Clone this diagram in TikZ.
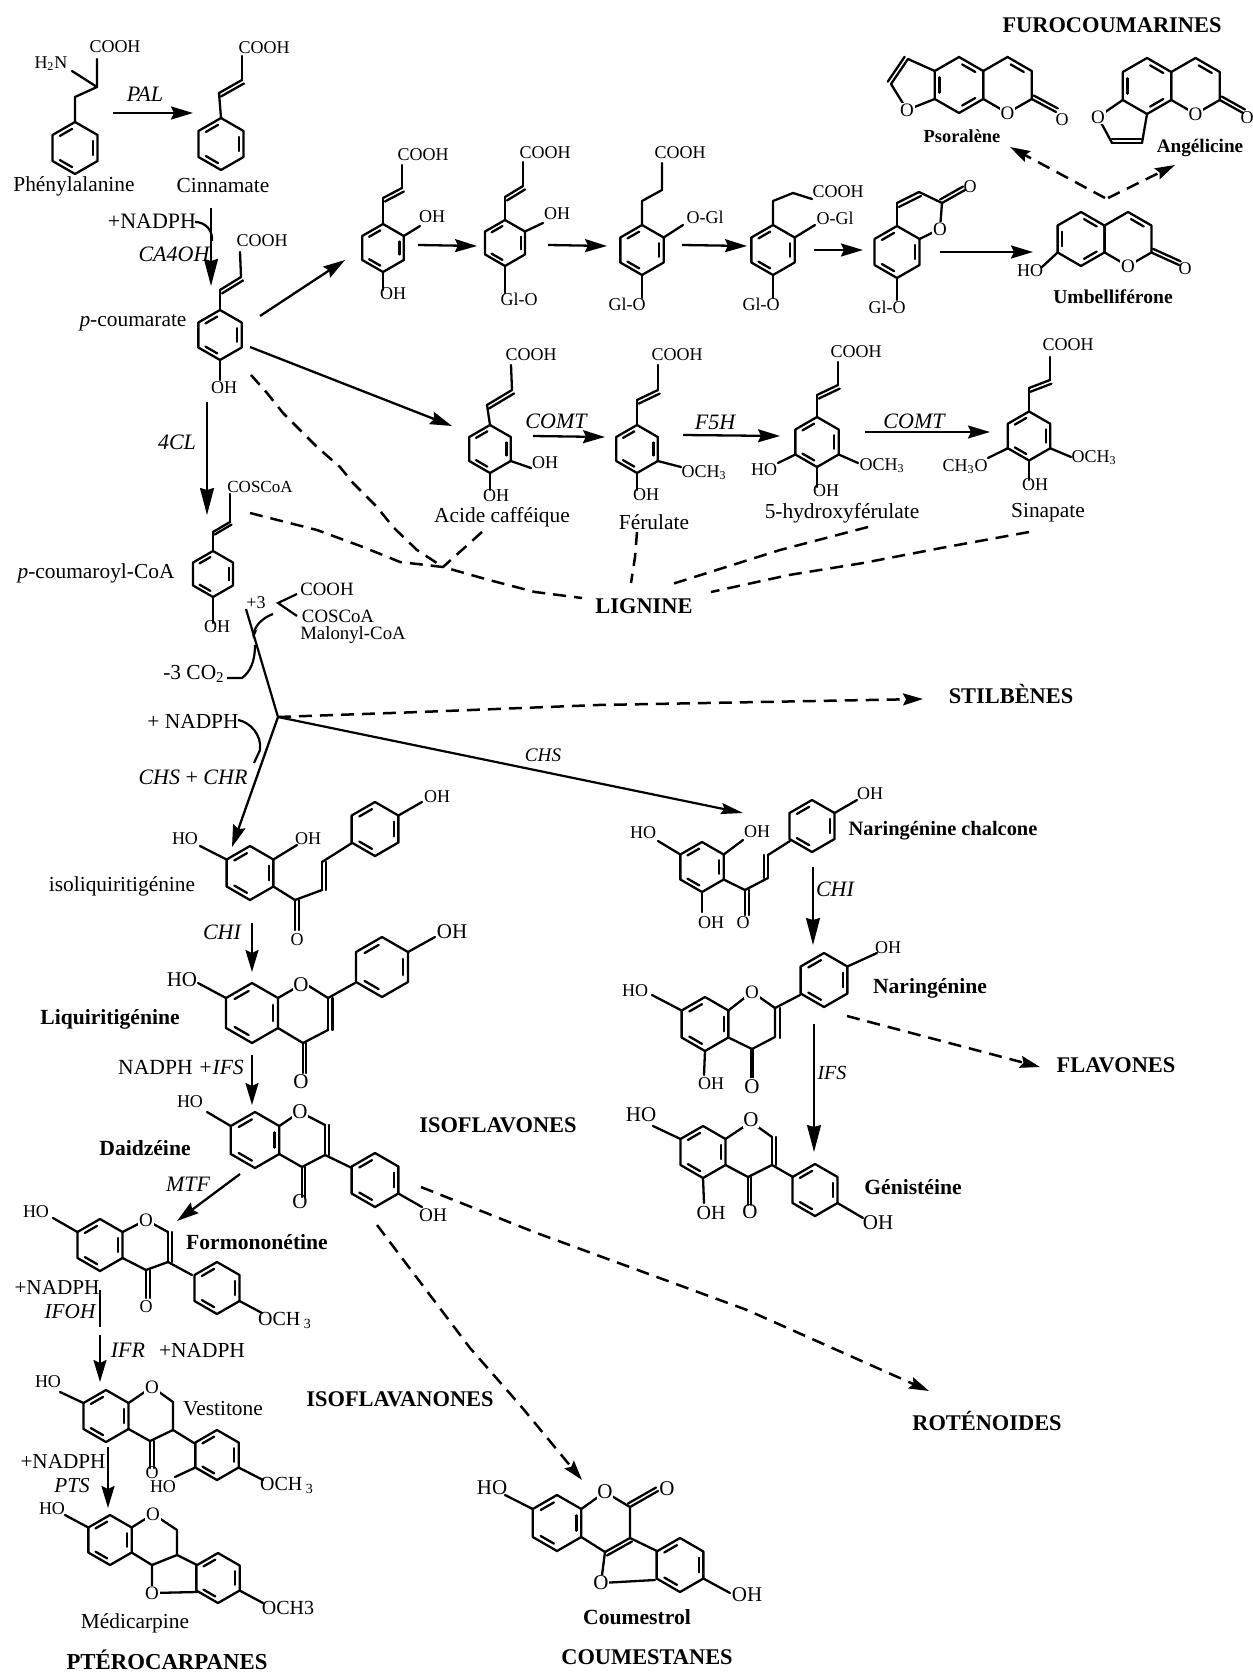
\documentclass[tikz,border=0pt]{standalone}
\usepackage{fontspec}
\setmainfont{Liberation Serif}
\usetikzlibrary{calc,arrows.meta}
\tikzset{
  bond/.style={line width=1.15pt,line join=round,line cap=round},
  arr/.style={line width=1.15pt,-{Stealth[length=11pt,width=6.5pt,inset=1.5pt]}},
  thinarr/.style={line width=.9pt,-{Stealth[length=13.5pt,width=7pt,inset=1pt]}},
  dasharr/.style={line width=1.25pt,dash pattern=on 6.5pt off 4pt,-{Stealth[length=10pt,width=6pt,inset=1.5pt]}},
  dashln/.style={line width=1.25pt,dash pattern=on 6.5pt off 4pt},
  plainln/.style={line width=1.1pt},
  chem/.style={inner sep=0pt,font=\fontsize{9}{10}\selectfont},
  chemL/.style={inner sep=0pt,font=\fontsize{10.5}{11}\selectfont},
  ato/.style={inner sep=.4pt,fill=white,font=\fontsize{9.5}{10}\selectfont},
  atoL/.style={inner sep=.4pt,fill=white,font=\fontsize{10.5}{11}\selectfont},
  lab/.style={inner sep=0pt,font=\fontsize{10.7}{12}\selectfont},
  enz/.style={inner sep=0pt,font=\fontsize{11}{12}\selectfont\itshape},
  labb/.style={inner sep=0pt,font=\fontsize{10.8}{12}\selectfont\bfseries},
  labs/.style={inner sep=0pt,font=\fontsize{9.2}{10}\selectfont\bfseries},
  fam/.style={inner sep=0pt,font=\fontsize{11.2}{12}\selectfont\bfseries}
}
% ring: name, cx, cy, R, inner double bonds (0 = none)
\newcommand\ring[5]{%
  \foreach \i/\a in {1/90,2/30,3/-30,4/-90,5/-150,6/150}{\coordinate (#1-\i) at ({#2+#4*cos(\a)},{#3-#4*sin(\a)});}
  \coordinate (#1-c) at (#2,#3);
  \draw[bond] (#1-1)--(#1-2)--(#1-3)--(#1-4)--(#1-5)--(#1-6)--cycle;
  \foreach \b in {#5}{\ifnum\b>0
    \pgfmathtruncatemacro\nxt{mod(\b,6)+1}
    \draw[bond] ($($(#1-\b)!.16!(#1-\nxt)$)!.2!(#1-c)$)--($($(#1-\nxt)!.16!(#1-\b)$)!.2!(#1-c)$);
  \fi}%
}
% double bond: p, q, offset in pt (positive: left of the travel direction)
\newcommand\dbond[3]{\draw[bond] #1--#2;\draw[bond] ($#1!#3pt!90:#2$)--($#2!#3pt!-90:#1$);}
% connector through two named coordinates
\newcommand\conn[4]{\coordinate (#1-s) at (#3);\coordinate (#1-e) at (#4);\draw[#2] (#1-s)--(#1-e);}
\begin{document}
\begin{tikzpicture}[x=0.5pt,y=-0.5pt]
\useasboundingbox (0,0) rectangle (1252,1674);
% ---------- Phenylalanine, cinnamate
\ring{phe}{75}{148}{26}{2,4,6}
\draw[bond] (phe-1)--(75,97)--(97,87)--(97,59);
\draw[bond] (97,87)--(72,71);
\node[chem] (t1) at (115,47) {COOH};
\node[chem] (t2) at (51,64) {H\textsubscript{2}N};
\node[lab] (t3) at (74,186) {Phénylalanine};
\conn{pal}{arr}{113,113}{193,113}
\node[enz] (t4) at (145,94) {PAL};
\ring{cin}{221}{144}{26}{2,4,6}
\draw[bond] (cin-1)--(219,93);\dbond{(219,93)}{(242,80)}{-2}\draw[bond] (242,80)--(242,56);
\node[chem] (t5) at (264,48) {COOH};
\node[lab] (t6) at (223,186) {Cinnamate};
\node[enz,font=\fontsize{11}{12}\selectfont] (t7) at (152,221) {+NADPH};
\node[enz] (t8) at (174,254) {CA4OH};
\conn{c4h}{thinarr}{211,208}{211,286}
\coordinate (c4hc) at (195,222);\coordinate (c4hd) at (212,241);
\draw[plainln] (c4hc) .. controls (205,222) and (213,230) .. (c4hd);
% ---------- p-coumarate
\ring{pco}{220}{335}{25}{2,4,6}
\draw[bond] (pco-1)--(220,290);\dbond{(220,290)}{(241,277)}{-2}\draw[bond] (241,277)--(240,252);
\draw[bond] (pco-4)--(220,380);
\node[chem] (t9) at (262,241) {COOH};
\node[chem] (t10) at (224,388) {OH};
\node[lab] (t11) at (133,323) {\textit{p}-coumarate};
\conn{a1}{arr}{260,316}{345,260}
\conn{a2}{arr}{250,347}{452,426}
\conn{cl4}{thinarr}{207,402}{207,515}
\node[enz] (t12) at (177,442) {4CL};
% ---------- top row
\ring{ra}{383}{248}{24}{2,4,6}
\draw[bond] (ra-1)--(383,198);\dbond{(383,198)}{(402,188)}{-2}\draw[bond] (402,188)--(402,165);
\draw[bond] (ra-2)--(420,226);\draw[bond] (ra-4)--(383,290);
\node[chem] (u1) at (423,155) {COOH};\node[chem] (u2) at (432,217) {OH};\node[chem] (u3) at (393,294) {OH};
\conn{a3}{arr}{418,245}{477,246}
\ring{rb}{505}{243}{23}{2,4,6}
\draw[bond] (rb-1)--(505,197);\dbond{(505,197)}{(523,186)}{-2}\draw[bond] (523,186)--(523,162);
\draw[bond] (rb-2)--(543,223);\draw[bond] (rb-4)--(505,293);
\node[chem] (u4) at (545,153) {COOH};\node[chem] (u5) at (557,214) {OH};\node[chem] (u6) at (519,299) {Gl-O};
\conn{a4}{arr}{548,245}{607,246}
\ring{rc}{642}{250}{25}{2,4,6}
\draw[bond] (rc-1)--(642,201)--(662,190)--(662,163);
\draw[bond] (rc-2)--(683,225);\draw[bond] (rc-4)--(642,298);
\node[chem] (u7) at (680,153) {COOH};\node[chem] (u8) at (705,217) {O-Gl};\node[chem] (u9) at (627,304) {Gl-O};
\conn{a5}{arr}{682,245}{747,246}
\ring{rd}{773}{250}{25}{2,4,6}
\draw[bond] (rd-1)--(773,201)--(793,193)--(812,199);
\draw[bond] (rd-2)--(815,225);\draw[bond] (rd-4)--(773,298);
\node[chem] (u10) at (838,192) {COOH};\node[chem] (u11) at (835,218) {O-Gl};\node[chem] (u12) at (761,304) {Gl-O};
\conn{a6}{arr}{814,250}{863,250}
% Gl-O coumarin
\ring{re}{897}{252}{26}{2,4,6}
\draw[bond] (re-1)--(897,203);\dbond{(897,203)}{(919,192)}{-2.2}\draw[bond] (919,192)--(942,203);
\draw[bond] (942,203)--(940,229)--(re-2);
\dbond{(942,203)}{(965,190)}{2}
\draw[bond] (re-4)--(897,300);
\node[ato] (u13) at (940,229) {O};\node[chem] (u14) at (970,187) {O};\node[chem] (u15) at (887,307) {Gl-O};
\conn{a7}{arr}{940,252}{1033,252}
% Umbelliferone
\ring{um}{1081}{239}{27}{1,3,5}
\ring{um2}{1128}{239}{27}{1}
\dbond{(um2-3)}{(1179,265)}{2}
\draw[bond] (um-5)--(1042,267);
\node[ato] (u16) at (um2-4) {O};\node[chem] (u17) at (1185,269) {O};
\node[chem] (u18) at (1030,271) {HO};
\node[labs,font=\fontsize{9.8}{10}\selectfont\bfseries] (u19) at (1113,297) {Umbelliférone};
% Psoralen
\ring{ps}{959}{85}{28}{1,3,5}
\ring{ps2}{1007.5}{85}{28}{1}
\dbond{(ps2-3)}{(1056,112)}{2}
\draw[bond] (ps-6)--(908,59);\dbond{(908,59)}{(891,84)}{-2}\draw[bond] (891,84)--(907,110)--(ps-5);
\node[ato] (f1) at (907,110) {O};\node[ato] (f2) at (ps2-4) {O};\node[chem] (f3) at (1062,120) {O};
\node[labs] (f4) at (962,136) {Psoralène};
% Angelicin
\ring{an}{1147}{86}{28}{1,3,5}
\ring{an2}{1195.5}{86}{28}{1}
\dbond{(an2-3)}{(1243,113)}{2}
\draw[bond] (an-5)--(1098,117)--(1112,143);\dbond{(1112,143)}{(1142,143)}{2}\draw[bond] (1142,143)--(an-4);
\node[ato] (f5) at (1098,117) {O};\node[ato] (f6) at (an2-4) {O};\node[chem] (f7) at (1247,118) {O};
\node[labs,font=\fontsize{9.6}{10}\selectfont\bfseries] (f8) at (1200,148) {Angélicine};
\node[fam] (f9) at (1112,25) {FUROCOUMARINES};
\conn{d1}{dasharr}{1105,198}{1010,147}
\conn{d2}{dasharr}{1108,198}{1175,165}
% ---------- Middle row
\ring{ca}{490}{449}{24}{2,4,6}
\draw[bond] (ca-1)--(487,405);\dbond{(487,405)}{(512,390)}{-2}\draw[bond] (512,390)--(511,365);
\draw[bond] (ca-3)--(531,468);\draw[bond] (ca-4)--(490,490);
\node[chem] (m1) at (531,355) {COOH};\node[chem] (m2) at (545,463) {OH};\node[chem] (m3) at (496,496) {OH};
\node[lab] (m4) at (502,517) {Acide cafféique};
\conn{a8}{arr}{533,436}{605,437}
\node[enz] (m5) at (556,421) {COMT};
\ring{fe}{637}{449}{24}{2,4,6}
\draw[bond] (fe-1)--(637,400);\dbond{(637,400)}{(658,390)}{-2}\draw[bond] (658,390)--(658,365);
\draw[bond] (fe-3)--(681,467);\draw[bond] (fe-4)--(637,490);
\node[chem] (m6) at (677,355) {COOH};\node[chem] (m7) at (704,473) {OCH\textsubscript{3}};\node[chem] (m8) at (646,495) {OH};
\node[lab] (m9) at (654,522) {Férulate};
\conn{a9}{arr}{683,435}{780,436}
\node[enz] (m10) at (715,422) {F5H};
\ring{hf}{817}{442}{25}{2,4,6}
\draw[bond] (hf-1)--(817,395);\dbond{(817,395)}{(838,385)}{-2}\draw[bond] (838,385)--(838,362);
\draw[bond] (hf-3)--(858,463);\draw[bond] (hf-5)--(778,463);\draw[bond] (hf-4)--(817,487);
\node[chem] (m11) at (856,352) {COOH};\node[chem] (m12) at (882,466) {OCH\textsubscript{3}};\node[chem] (m13) at (764,470) {HO};\node[chem] (m14) at (826,491) {OH};
\node[lab] (m15) at (842,513) {5-hydroxyférulate};
\conn{a10}{arr}{865,432}{990,432}
\node[enz] (m16) at (914,421) {COMT};
\ring{si}{1029}{436}{24.5}{2,4,6}
\draw[bond] (si-1)--(1029,388);\dbond{(1029,388)}{(1050,380)}{-2}\draw[bond] (1050,380)--(1050,357);
\draw[bond] (si-3)--(1071,457);\draw[bond] (si-5)--(988,458);\draw[bond] (si-4)--(1029,480);
\node[chem] (m17) at (1068,345) {COOH};\node[chem] (m18) at (1094,458) {OCH\textsubscript{3}};\node[chem] (m19) at (965,467) {CH\textsubscript{3}O};\node[chem] (m20) at (1035,485) {OH};
\node[lab] (m21) at (1048,513) {Sinapate};
% ---------- Lignine dashes
\node[fam] (lig) at (644,606) {LIGNINE};
\coordinate (lj) at (443,567);
\coordinate (lg1) at (582,598);\coordinate (lg2) at (631,583);\coordinate (lg3) at (669,585);\coordinate (lg4) at (711,592);
\draw[dashln] (251,375)--(267,393)--(283,413)--(317,447)--(340,467)--(353,483)--(377,507)--(393,527)--(417,550)--(lj);
\draw[dashln] (250,513)--(317,530)--(363,547)--(400,562)--(lj)--(489,580)--(535,592)--(lg1);
\draw[dashln] (482,532)--(lj);
\draw[dashln] (637,532)--(635,557)--(lg2);
\draw[dashln] (868,527)--(780,550)--(lg3);
\draw[dashln] (1029,532)--(941,548)--(863,563)--(789,575)--(lg4);
% ---------- p-coumaroyl
\ring{pc}{213}{574}{23}{2,4,6}
\draw[bond] (pc-1)--(213,532);\dbond{(213,532)}{(230,522)}{-1.5}\draw[bond] (230,522)--(230,494);
\draw[bond] (pc-4)--(213,623);
\node[chem,font=\fontsize{8.5}{10}\selectfont] (n1) at (260,487) {COSCoA};
\node[chem] (n2) at (217,627) {OH};
\node[lab] (n3) at (96,573) {\textit{p}-coumaroyl-CoA};
\node[chem] (n4) at (256,603) {+3};
\draw[plainln] (297,594)--(278,603)--(297,616);
\node[chem,font=\fontsize{9.4}{10}\selectfont] (n5) at (327,589) {COOH};
\node[chem,font=\fontsize{9.4}{10}\selectfont] (n6) at (338,616) {COSCoA};
\node[chem,font=\fontsize{9.4}{10}\selectfont] (n7) at (353,635) {Malonyl-CoA};
% junction
\coordinate (jct) at (278,717);\coordinate (mst) at (246,609);
\draw[plainln] (mst)--(jct);
\coordinate (mc1) at (273,614);\coordinate (mc2) at (253,639);
\draw[plainln,-{Stealth[length=5pt,width=3pt]}] (mc1) .. controls (262,618) and (255,626) .. (mc2);
\node[lab] (n8) at (194,674) {-3 CO\textsubscript{2}};
\coordinate (co1) at (227,678);\coordinate (co2) at (255,645);
\draw[plainln] (co1)--(242,678) .. controls (250,672) and (255,662) .. (co2);
\node[lab] (n9) at (193,721) {+ NADPH};
\coordinate (na1) at (238,720);\coordinate (na2) at (254,763);
\draw[plainln] (na1) .. controls (250,722) and (262,735) .. (260,750) -- (na2);
\node[enz] (n10) at (193,777) {CHS \textup{+} CHR};
\coordinate (chsre) at (232,847);\draw[arr] (jct)--(chsre);
\coordinate (chse) at (743,813);\draw[plainln,-{Stealth[length=11pt,width=5.5pt,inset=1.5pt]}] (jct)--(chse);
\node[enz,font=\fontsize{9.6}{10}\selectfont\itshape] (n11) at (543,755) {CHS};
\node[fam] (n12) at (1011,694) {STILBÈNES};
\coordinate (sti) at (923,699);
\draw[dasharr] (jct)--(420,712)--(598,705)--(sti);
% ---------- isoliquiritigenine
\ring{il}{250}{873}{27}{2,4,6}
\draw[bond] (il-6)--(200,846);\draw[bond] (il-2)--(297,845);
\draw[bond] (il-3)--(295,900)--(322,890);
\dbond{(322,890)}{(322,862)}{-2}
\draw[bond] (322,862)--(352,843);
\dbond{(295,900)}{(295,930)}{2}
\ring{il2}{375}{829}{27}{2,4,6}
\draw[bond] (il2-2)--(422,802);
\node[chem] (i1) at (185,839) {HO};\node[chem] (i2) at (308,839) {OH};\node[chem] (i3) at (297,940) {O};\node[chem] (i4) at (437,797) {OH};
\node[lab] (i5) at (122,886) {isoliquiritigénine};
\node[enz] (i6) at (222,932) {CHI};
\conn{a11}{arr}{252,923}{252,972}
% ---------- Liquiritigenine
\ring{lq}{252}{1013}{30}{2,4,6}
\draw[bond] (lq-2)--(304,983)--(328,998);\dbond{(328,998)}{(328,1030)}{2.2}\draw[bond] (328,1030)--(303,1043)--(lq-3);
\draw[bond] (lq-6)--(198,983);
\dbond{(303,1043)}{(303,1073)}{1.5}
\draw[bond] (328,998)--(355,983);
\ring{lq2}{382}{967}{30}{2,4,6}
\draw[bond] (lq2-2)--(435,937);
\node[atoL] (l1) at (301,985) {O};\node[chemL] (l2) at (182,980) {HO};\node[chemL] (l3) at (301,1082) {O};\node[chemL] (l4) at (452,932) {OH};
\node[labb] (l5) at (110,1019) {Liquiritigénine};
\node[lab,font=\fontsize{10.8}{12}\selectfont] (l6) at (181,1067) {NADPH \textit{+IFS}};
\conn{a12}{arr}{252,1055}{252,1105}
% ---------- Daidzeine
\ring{da}{255}{1140}{28}{2,4,6}
\draw[bond] (da-2)--(300,1112)--(325,1125);\dbond{(325,1125)}{(325,1155)}{2}\draw[bond] (325,1155)--(302,1167)--(da-3);
\draw[bond] (da-6)--(207,1112);
\dbond{(302,1167)}{(302,1197)}{1.5}
\draw[bond] (325,1155)--(352,1168);
\ring{da2}{375}{1180}{27}{2,4,6}
\draw[bond] (da2-3)--(422,1207);
\node[atoL] (d3) at (300,1112) {O};\node[chem] (d4) at (190,1102) {HO};\node[chemL] (d5) at (300,1202) {O};\node[chem,font=\fontsize{9.6}{10}\selectfont] (d6) at (433,1215) {OH};
\node[labb] (d7) at (145,1148) {Daidzéine};
\node[fam] (d8) at (498,1125) {ISOFLAVONES};
\node[enz] (d9) at (188,1184) {MTF};
\conn{a13}{arr}{240,1174}{177,1221}
% ---------- Formononetine
\ring{fo}{100}{1245}{26}{2,4,6}
\draw[bond] (fo-2)--(146,1220)--(168,1232);\dbond{(168,1232)}{(168,1262)}{2}\draw[bond] (168,1262)--(146,1270)--(fo-3);
\draw[bond] (fo-6)--(53,1218);
\dbond{(146,1270)}{(146,1298)}{2}
\draw[bond] (168,1262)--(192,1275);
\ring{fo2}{217}{1288}{26}{2,4,6}
\draw[bond] (fo2-3)--(262,1313);
\node[ato] (o1) at (146,1220) {O};\node[chem] (o2) at (36,1212) {HO};\node[chem] (o3) at (146,1307) {O};
\node[chem,font=\fontsize{10}{10}\selectfont] (o4) at (285,1320) {OCH\textsubscript{ 3}};
\node[labb] (o5) at (257,1242) {Formononétine};
\node[lab,font=\fontsize{10.6}{12}\selectfont] (o6) at (57,1288) {+NADPH};
\node[enz,font=\fontsize{10.6}{12}\selectfont\itshape] (o7) at (70,1312) {IFOH};
\conn{a14}{plainln}{100,1290}{100,1327}
\conn{a15}{arr}{100,1335}{100,1382}
\node[enz] (o8) at (128,1350) {IFR};
\node[lab] (o9) at (202,1350) {+NADPH};
% ---------- Vestitone
\ring{ve}{106}{1416}{26}{2,4,6}
\draw[bond] (ve-2)--(152,1387)--(173,1402)--(173,1430)--(150,1441)--(ve-3);
\draw[bond] (ve-6)--(60,1392);
\dbond{(150,1441)}{(150,1468)}{2}
\draw[bond] (173,1430)--(194,1443);
\ring{ve2}{217}{1455}{25}{2,4,6}
\draw[bond] (ve2-3)--(263,1480);\draw[bond] (ve2-5)--(175,1477);
\node[ato] (v1) at (152,1387) {O};\node[chem] (v2) at (48,1382) {HO};\node[chem] (v3) at (152,1473) {O};\node[chem] (v4) at (163,1487) {HO};
\node[chem,font=\fontsize{10}{10}\selectfont] (v5) at (287,1485) {OCH\textsubscript{ 3}};
\node[lab] (v6) at (223,1409) {Vestitone};
\node[fam] (v7) at (400,1399) {ISOFLAVANONES};
\node[lab,font=\fontsize{10.6}{12}\selectfont] (v8) at (63,1462) {+NADPH};
\node[enz,font=\fontsize{10.6}{12}\selectfont\itshape] (v9) at (72,1486) {PTS};
\conn{a16}{arr}{108,1447}{108,1508}
% ---------- Medicarpine
\ring{me}{110}{1540}{25}{2,4,6}
\draw[bond] (me-2)--(153,1514)--(177,1530)--(177,1555)--(152,1565)--(me-3);
\draw[bond] (me-6)--(65,1515);
\draw[bond] (152,1565)--(152,1593)--(197,1592);
\draw[bond] (177,1555)--(197,1565);
\ring{me2}{218}{1578}{25}{2,4,6}
\draw[bond] (me2-3)--(263,1603);
\node[ato] (e1) at (153,1514) {O};\node[ato] (e2) at (152,1593) {O};\node[chem] (e3) at (52,1509) {HO};
\node[chem,font=\fontsize{10}{10}\selectfont] (e4) at (288,1608) {OCH3};
\node[lab] (e5) at (135,1623) {Médicarpine};
\node[fam,font=\fontsize{11.4}{12}\selectfont\bfseries] (e6) at (167,1660) {PTÉROCARPANES};
% ---------- Daidzeine dashes
\coordinate (cue) at (582,1480);\coordinate (rte) at (929,1391);
\draw[dasharr] (377,1225)--(470,1348)--(520,1405)--(cue);
\draw[dasharr] (421,1187)--(534,1232)--(747,1310)--(rte);
\node[fam] (r1) at (987,1421) {ROTÉNOIDES};
% ---------- Naringenine chalcone
\ring{nc}{702}{867}{25}{2,4,6}
\draw[bond] (nc-6)--(658,841);\draw[bond] (nc-2)--(743,840);\draw[bond] (nc-4)--(702,912);
\draw[bond] (nc-3)--(745,890)--(768,878);\dbond{(768,878)}{(768,855)}{2}\draw[bond] (768,855)--(790,841);
\dbond{(745,890)}{(745,915)}{2}
\ring{nc2}{812}{826}{26}{2,4,6}
\draw[bond] (nc2-2)--(857,800);
\node[chem] (c1) at (643,833) {HO};\node[chem] (c2) at (757,832) {OH};\node[chem] (c3) at (711,923) {OH};\node[chem] (c4) at (743,923) {O};\node[chem] (c5) at (870,794) {OH};
\node[labb,font=\fontsize{10.2}{12}\selectfont\bfseries] (c6) at (943,831) {Naringénine chalcone};
\node[enz] (c7) at (835,889) {CHI};
\conn{a17}{thinarr}{813,867}{813,945}
% ---------- Naringenine
\ring{nn}{705}{1024}{27}{2,4,6}
\draw[bond] (nn-2)--(752,992)--(775,1008)--(775,1037)--(752,1049)--(nn-3);
\draw[bond] (780,1008)--(780,1038);
\draw[bond] (nn-6)--(652,995);\draw[bond] (nn-4)--(704,1075);
\draw[line width=1.8pt] (752,1049)--(752,1078);
\draw[bond] (775,1008)--(800,995);
\ring{nn2}{824}{980}{27}{2,4,6}
\draw[bond] (nn2-2)--(877,953);
\node[ato] (g1) at (752,992) {O};\node[chem] (g2) at (635,991) {HO};\node[chem] (g3) at (711,1084) {OH};\node[chemL] (g4) at (752,1087) {O};\node[chem] (g5) at (888,948) {OH};
\node[labb] (g6) at (930,988) {Naringénine};
\conn{d3}{dasharr}{847,1016}{1040,1067}
\node[fam] (g7) at (1116,1065) {FLAVONES};
\conn{a18}{thinarr}{814,1024}{814,1152}
\node[enz,font=\fontsize{10}{12}\selectfont\itshape] (g8) at (832,1073) {IFS};
% ---------- Genisteine
\ring{ge}{703}{1152}{26}{2,4,6}
\draw[bond] (ge-2)--(751,1122)--(772,1137);\dbond{(772,1137)}{(772,1165)}{2}\draw[bond] (772,1165)--(748,1177)--(ge-3);
\draw[bond] (ge-6)--(653,1126);\draw[bond] (ge-4)--(704,1203);
\dbond{(748,1177)}{(748,1205)}{1.5}
\draw[bond] (772,1165)--(793,1177);
\ring{ge2}{815}{1190}{26}{2,4,6}
\draw[bond] (ge2-3)--(863,1218);
\node[atoL] (h1) at (751,1120) {O};\node[chemL] (h2) at (641,1115) {HO};\node[chem,font=\fontsize{10}{10}\selectfont] (h3) at (711,1213) {OH};\node[chemL] (h4) at (750,1212) {O};\node[chemL] (h5) at (878,1223) {OH};
\node[labb] (h6) at (913,1187) {Génistéine};
% ---------- Coumestrol
\ring{co}{557}{1523}{28}{2,4,6}
\draw[bond] (co-2)--(605,1492)--(630,1507)--(630,1538);\dbond{(630,1538)}{(605,1552)}{2}\draw[bond] (605,1552)--(co-3);
\draw[bond] (co-6)--(505,1495);
\dbond{(630,1507)}{(658,1491)}{2}
\draw[bond] (605,1552)--(601,1583)--(655,1580);
\draw[bond] (630,1538)--(657,1551);
\ring{co2}{680}{1565}{27}{2,4,6}
\draw[bond] (co2-3)--(730,1593);
\node[atoL] (k1) at (605,1492) {O};\node[atoL] (k2) at (601,1583) {O};\node[chemL] (k3) at (492,1488) {HO};\node[chemL] (k4) at (667,1489) {O};\node[chemL] (k5) at (747,1595) {OH};
\node[labb] (k6) at (637,1617) {Coumestrol};
\node[fam] (k7) at (647,1657) {COUMESTANES};
\end{tikzpicture}
\end{document}
